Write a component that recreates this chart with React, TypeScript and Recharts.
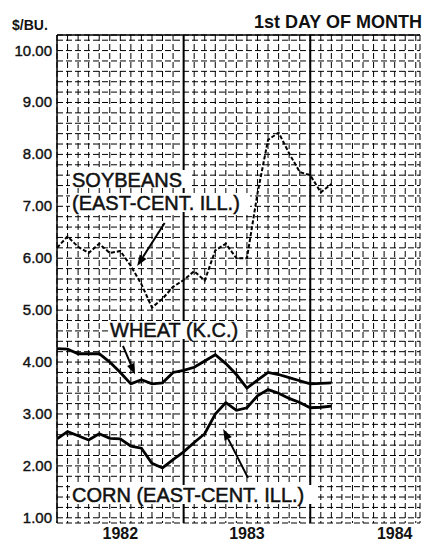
import React from 'react';
import { LineChart, Line, XAxis, YAxis, CartesianGrid, ReferenceLine } from 'recharts';

// month index 0 = Jan 1982 (1st day of month)
const monthIdx = [0, 1, 2, 3, 4, 5, 6, 7, 8, 9, 10, 11, 12, 13, 14, 15, 16, 17, 18, 19, 20, 21, 22, 23, 24, 25, 26];
const soybeans = [6.2, 6.42, 6.22, 6.1, 6.28, 6.1, 6.14, 5.85, 5.5, 5.05, 5.22, 5.45, 5.58, 5.75, 5.57, 6.15, 6.28, 6.0, 6.0, 7.25, 8.28, 8.42, 8.02, 7.66, 7.6, 7.27, 7.43];
const wheat = [4.26, 4.25, 4.16, 4.16, 4.16, 4.0, 3.8, 3.58, 3.66, 3.58, 3.6, 3.8, 3.84, 3.9, 4.02, 4.14, 3.97, 3.76, 3.5, 3.65, 3.8, 3.76, 3.7, 3.64, 3.58, 3.59, 3.6];
const corn = [2.52, 2.66, 2.58, 2.5, 2.62, 2.53, 2.52, 2.38, 2.34, 2.05, 1.96, 2.12, 2.27, 2.45, 2.62, 3.0, 3.22, 3.07, 3.12, 3.35, 3.47, 3.4, 3.3, 3.22, 3.12, 3.13, 3.15];

const yLabels = [1, 2, 3, 4, 5, 6, 7, 8, 9, 10];
const years = ['1982', '1983', '1984'];
const yearLabelAt = [6, 18, 32];
const yearBreaks = [12, 24];

const data = monthIdx.map((m, i) => ({ m, soybeans: soybeans[i], wheat: wheat[i], corn: corn[i] }));

// grid every month / every 20 cents
const monthTicks = Array.from({ length: 35 }, (_, i) => i);
const centTicks = Array.from({ length: 47 }, (_, i) => Math.round((1 + i * 0.2) * 10) / 10);

// arrow annotations, in data units
const arrows = [
  { from: { x: 10.2, y: 6.68 }, to: { x: 7.6, y: 5.85 } },
  { from: { x: 6.25, y: 4.31 }, to: { x: 7.4, y: 3.76 } },
  { from: { x: 18.1, y: 1.77 }, to: { x: 15.75, y: 2.71 } },
];

const font = '"Liberation Sans", Arial, sans-serif';

const YTick = (props: any) => {
  const { x, y, payload } = props;
  const v = payload.value;
  if (!yLabels.includes(v)) return <g />;
  return (
    <text x={x} y={y} dy={5} textAnchor="end" fontSize={15} fill="#111" stroke="#111" strokeWidth={0.4} fontFamily={font}>
      {v.toFixed(2)}
    </text>
  );
};

const XTick = (props: any) => {
  const { x, y, payload } = props;
  const k = yearLabelAt.indexOf(payload.value);
  if (k < 0) return <g />;
  return (
    <text x={x} y={y} dy={16} textAnchor="middle" fontSize={16} fontWeight="bold" fill="#111" fontFamily={font}>
      {years[k]}
    </text>
  );
};

const Arrow = (props: any) => {
  const { x1, y1, x2, y2 } = props;
  const ang = Math.atan2(y2 - y1, x2 - x1);
  const len = 11;
  const w = 4;
  const bx = x2 - len * Math.cos(ang);
  const by = y2 - len * Math.sin(ang);
  const px = -Math.sin(ang) * w;
  const py = Math.cos(ang) * w;
  return (
    <g>
      <line x1={x1} y1={y1} x2={bx} y2={by} stroke="#000" strokeWidth={2} />
      <polygon points={`${x2},${y2} ${bx + px},${by + py} ${bx - px},${by - py}`} fill="#000" />
    </g>
  );
};

const App: React.FC = () => {
  return (
    <div style={{ position: 'absolute', left: 0, top: 0, width: 424, height: 548, background: '#fff' }}>
      <LineChart width={424} height={548} data={data} margin={{ top: 35, right: 4, bottom: 0, left: 0 }}>
        <CartesianGrid stroke="#000" strokeDasharray="6 3" strokeWidth={1} />
        <XAxis
          dataKey="m"
          type="number"
          domain={[0, 34.4]}
          allowDataOverflow
          ticks={monthTicks}
          interval={0}
          tick={<XTick />}
          tickLine={false}
          axisLine={false}
          tickSize={0}
          tickMargin={0}
          height={25}
        />
        <YAxis
          type="number"
          domain={[0.9, 10.3]}
          allowDataOverflow
          ticks={centTicks}
          interval={0}
          tick={<YTick />}
          tickLine={false}
          axisLine={false}
          tickSize={0}
          tickMargin={5}
          width={57}
        />
        <ReferenceLine x={0} stroke="#000" strokeWidth={1.5} />
        {yearBreaks.map((b) => (
          <ReferenceLine key={b} x={b} stroke="#000" strokeWidth={2} />
        ))}
        <ReferenceLine y={10.3} stroke="#000" strokeWidth={1.5} />
        <Line dataKey="soybeans" stroke="#000" strokeWidth={2} strokeDasharray="4 2" dot={false} isAnimationActive={false} />
        <Line dataKey="wheat" stroke="#000" strokeWidth={2.8} dot={false} isAnimationActive={false} />
        <Line dataKey="corn" stroke="#000" strokeWidth={2.8} dot={false} isAnimationActive={false} />
        {arrows.map((a, i) => (
          <ReferenceLine key={`arr-${i}`} segment={[a.from, a.to]} shape={(p: any) => <Arrow {...p} />} />
        ))}
      </LineChart>
      <svg width={424} height={548} style={{ position: 'absolute', left: 0, top: 0, pointerEvents: 'none' }} fontFamily={font}>
        <text x={12} y={30} fontSize={14} fontWeight="bold" fill="#111">$/BU.</text>
        <text x={422} y={28} fontSize={18} fontWeight="bold" fill="#111" textAnchor="end">1st DAY OF MONTH</text>
        <g fontSize={20} fill="#111" stroke="#111" strokeWidth={0.5}>
          <rect x={70} y={170} width={120} height={18} fill="#fff" stroke="none" />
          <text x={72} y={187}>SOYBEANS</text>
          <rect x={70} y={193} width={180} height={19} fill="#fff" stroke="none" />
          <text x={72} y={210}>(EAST-CENT. ILL.)</text>
          <rect x={108} y={321} width={136} height={18} fill="#fff" stroke="none" />
          <text x={110} y={337}>WHEAT (K.C.)</text>
          <rect x={70} y={485} width={248} height={19} fill="#fff" stroke="none" />
          <text x={72} y={502}>CORN (EAST-CENT. ILL.)</text>
        </g>
      </svg>
    </div>
  );
};

export default App;
